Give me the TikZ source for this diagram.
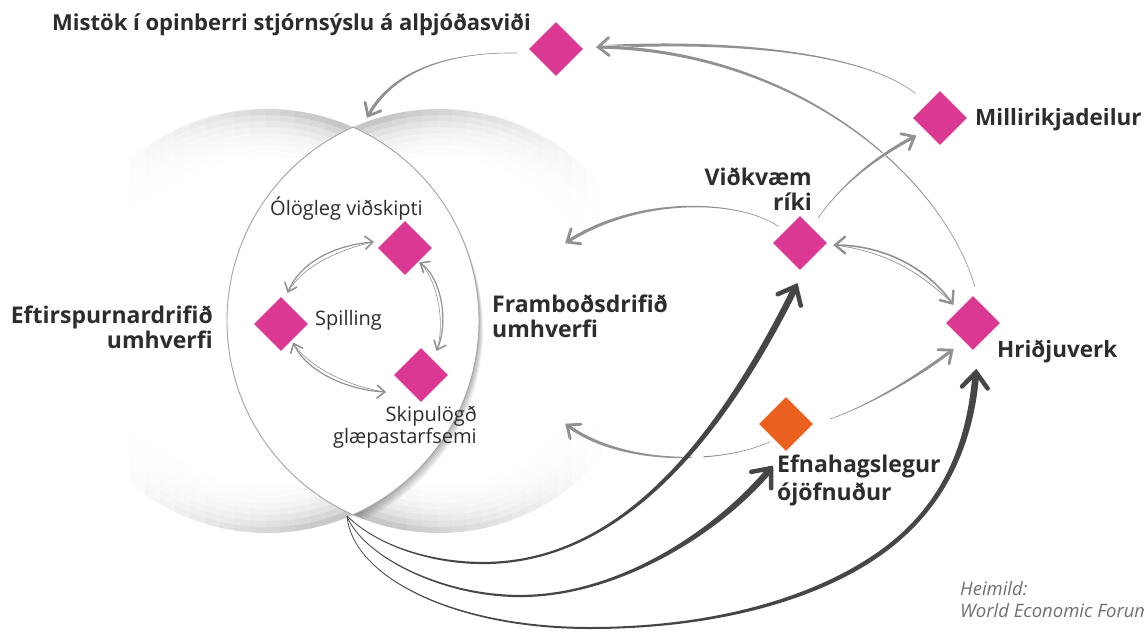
\documentclass[tikz,border=0pt]{standalone}
\usepackage{fontspec}
\setmainfont{Open Sans}
\usetikzlibrary{arrows.meta,calc,shapes.geometric}
\definecolor{pinkD}{RGB}{219,56,148}
\definecolor{orangeD}{RGB}{236,96,31}
\definecolor{txtc}{RGB}{45,45,45}
\definecolor{grA}{RGB}{145,145,145}
\definecolor{dkA}{RGB}{70,70,70}
\definecolor{lensc}{RGB}{165,165,165}
\newcommand\taper[7]{%
  \path #1 coordinate (tpS) #2 coordinate (tpA) #3 coordinate (tpB) #4 coordinate (tpE);
  \path ($(tpS)!#5!-90:(tpA)$) coordinate (tpS1) ($(tpS)!#5!90:(tpA)$) coordinate (tpS2)
        ($(tpE)!#6!90:(tpB)$) coordinate (tpE1) ($(tpE)!#6!-90:(tpB)$) coordinate (tpE2);
  \path ($(tpA)+(tpS1)-(tpS)$) coordinate (tpA1) ($(tpA)+(tpS2)-(tpS)$) coordinate (tpA2)
        ($(tpB)+(tpE1)-(tpE)$) coordinate (tpB1) ($(tpB)+(tpE2)-(tpE)$) coordinate (tpB2);
  \fill[#7] (tpS1) .. controls (tpA1) and (tpB1) .. (tpE1) -- (tpE2) .. controls (tpB2) and (tpA2) .. (tpS2) -- cycle;
}
\newcommand\chev[5]{%
  \draw[#5, line width=#4, line cap=round, line join=miter] ($#1!#3!40:#2$) -- #1 -- ($#1!#3!-40:#2$);}
\begin{document}
\begin{tikzpicture}[x=1pt,y=-1pt,
  dia/.style={diamond, fill=pinkD, inner sep=0pt, minimum width=54pt, minimum height=54pt},
  blbl/.style={text=txtc, inner sep=0pt, font=\bfseries\fontsize{23}{25}\selectfont},
  rlbl/.style={text=txtc, inner sep=0pt, font=\fontsize{20}{22}\selectfont}]
\useasboundingbox (0,0) rectangle (1144,633);
% background circles: rim rings, faded sideways by vertical strips
\foreach \i in {0,...,28} {
  \pgfmathsetmacro\xa{55+15*\i}
  \pgfmathsetmacro\fl{max(0,min(1,(\xa+7.5-125)/200))}
  \pgfmathsetmacro\fr{max(0,min(1,(600-(\xa+172)-7.5)/210))}
  \begin{scope}
    \clip (\xa,100) rectangle (\xa+15.3,545);
    \foreach \rr/\gg in {212/22,206/16,200/11.5,194/8,188/5.5,182/3.5,176/2,170/1,164/0} {
      \pgfmathsetmacro\cc{\gg*\fl}
      \fill[black!\cc] (267,321) circle (\rr);
    }
  \end{scope}
  \begin{scope}
    \clip (\xa+172,100) rectangle (\xa+187.3,545);
    \foreach \rr/\gg in {212/22,206/16,200/11.5,194/8,188/5.5,182/3.5,176/2,170/1,164/0} {
      \pgfmathsetmacro\cc{\gg*\fr}
      \fill[black!\cc] (439,321) circle (\rr);
    }
  \end{scope}
}
\begin{scope}
  \clip (439,321) circle (212);
  \foreach \sh in {1,...,5} {\fill[black, opacity=0.06] ($(267,321)+(0.8*\sh,1.7*\sh)$) circle (212);}
\end{scope}
% lens
\begin{scope}
  \clip (267,321) circle (212);
  \fill[white] (439,321) circle (212);
\end{scope}
\begin{scope}
  \clip (267,321) circle (212.6);
  \draw[lensc, line width=0.9pt] (439,321) circle (212);
\end{scope}
\begin{scope}
  \clip (439,321) circle (212.6);
  \draw[lensc, line width=0.9pt] (267,321) circle (212);
\end{scope}
% diamonds
\node[dia] (mis) at (556,49) {};
\node[dia] (mil) at (940,118) {};
\node[dia] (vr) at (800,243) {};
\node[dia] (hr) at (973,323) {};
\node[dia, fill=orangeD] (ef) at (786,424) {};
\node[dia] (ol) at (405,248) {};
\node[dia] (sp) at (281,324) {};
\node[dia] (sk) at (421,375) {};
% labels
\node[blbl, anchor=base west, font=\bfseries\fontsize{22}{24}\selectfont] (title) at (52,30) {Mistök í opinberri stjórnsýslu á alþjóðasviði};
\node[blbl, anchor=base west, font=\bfseries\fontsize{22.5}{25}\selectfont] (milL) at (975,125) {Millirikjadeilur};
\node[blbl, anchor=base west, font=\bfseries\fontsize{22.5}{25}\selectfont] (hrL) at (997,357) {Hriðjuverk};
\node[blbl, anchor=base east, align=right] (vrL) at (812,210) {Viðkvæm\\ríki};
\node[blbl, anchor=base west, align=left, font=\bfseries\fontsize{23}{28}\selectfont] (efL) at (777,500) {Efnahagslegur\\ójöfnuður};
\node[blbl, anchor=base east, align=right, font=\bfseries\fontsize{23}{22}\selectfont] (eftL) at (213,348) {Eftirspurnardrifið\\umhverfi};
\node[blbl, anchor=base west, align=left] (frL) at (492,337) {Framboðsdrifið\\umhverfi};
\node[rlbl, anchor=base west] (olL) at (270,215) {Ólögleg viðskipti};
\node[rlbl, anchor=base west] (spL) at (315,325) {Spilling};
\node[rlbl, anchor=base east, align=right] (skL) at (477,443) {Skipulögð\\glæpastarfsemi};
\node[anchor=base west, align=left, inner sep=0pt, text={rgb,255:red,110;green,110;blue,110}, font=\itshape\fontsize{18.5}{22}\selectfont] (src) at (960,617) {Heimild:\\World Economic Forum};
% coordinates
\coordinate (lensB) at (347,516);
\coordinate (lensTop) at (368,116);
\coordinate (framTop) at (567,242);
\coordinate (framBot) at (567,425);
\coordinate (misTip) at ($(mis.east)+(15,-2)$);
\coordinate (g1S) at ($(mil.north west)+(-11,-11)$);
\coordinate (g2S) at ($(hr.north)+(2,-9)$);
\coordinate (g3S) at ($(mis.west)+(-12,4)$);
\coordinate (g4S) at ($(vr.north east)+(4.5,-11.5)$);
\coordinate (g4E) at ($(mil.south west)+(-12,5)$);
\coordinate (g5S) at ($(vr.north west)+(-8,-3)$);
\coordinate (g6L) at ($(vr.east)+(8,2)$);
\coordinate (g6R) at ($(hr.north west)+(-7,-6)$);
\coordinate (g7S) at ($(ef.east)+(17,-5)$);
\coordinate (g7E) at ($(hr.south)+(-21,0)$);
\coordinate (g8S) at ($(ef.south west)+(-2,4)$);
% grey connectors
\taper{(g1S)}{(860,50)}{(720,40)}{(misTip)}{0.3pt}{1.6pt}{grA}
\draw[white, line width=4pt] (g2S) .. controls (940,170) and (790,50) .. (misTip);
\taper{(g2S)}{(940,170)}{(790,50)}{(misTip)}{0.3pt}{1.6pt}{grA}
\chev{(misTip)}{(720,42)}{14pt}{2.8pt}{grA}
\taper{(g3S)}{(440,52)}{(390,75)}{(lensTop)}{0.3pt}{1.6pt}{grA}
\chev{(lensTop)}{(390,75)}{14pt}{2.8pt}{grA}
\draw[white, line width=4pt, shorten <=8pt, shorten >=14pt] (g4S) .. controls (845,180) and (880,155) .. (g4E);
\taper{(g4S)}{(845,180)}{(880,155)}{(g4E)}{0.3pt}{1.6pt}{grA}
\chev{(g4E)}{(880,155)}{14pt}{2.8pt}{grA}
\taper{(g5S)}{(740,200)}{(640,195)}{(framTop)}{0.3pt}{1.6pt}{grA}
\chev{(framTop)}{(640,195)}{14pt}{2.8pt}{grA}
\draw[grA, line width=1.6pt] (g6L) .. controls (880,245) and (925,265) .. (g6R);
\draw[grA, line width=0.7pt] (g6L) .. controls (885,252) and (918,270) .. (g6R);
\chev{(g6L)}{(880,245)}{13pt}{2.4pt}{grA}
\chev{(g6R)}{(925,265)}{13pt}{2.4pt}{grA}
\taper{(g7S)}{(870,405)}{(920,375)}{(g7E)}{0.3pt}{1.6pt}{grA}
\chev{(g7E)}{(920,375)}{14pt}{2.8pt}{grA}
\taper{(g8S)}{(720,465)}{(620,465)}{(framBot)}{0.3pt}{1.6pt}{grA}
\chev{(framBot)}{(620,465)}{14pt}{2.8pt}{grA}
% inner double arrows
\coordinate (i1A) at ($(sp.north)+(7,-5)$);
\coordinate (i1B) at ($(ol.west)+(-5,-6)$);
\coordinate (i2A) at ($(ol.east)+(-12,15)$);
\coordinate (i2B) at ($(sk.north)+(16,2)$);
\coordinate (i3A) at ($(sp.south east)+(-1,6)$);
\coordinate (i3B) at ($(sk.west)+(-9,17)$);
\draw[grA, line width=1.2pt] (i1A) .. controls (300,262) and (335,245) .. (i1B);
\draw[grA, line width=0.6pt] (i1A) .. controls (303,266) and (338,250) .. (i1B);
\chev{(i1A)}{(300,262)}{10pt}{1.6pt}{grA}
\chev{(i1B)}{(335,245)}{10pt}{1.6pt}{grA}
\draw[grA, line width=1.2pt] (i2A) .. controls (440,275) and (450,320) .. (i2B);
\draw[grA, line width=0.6pt] (i2A) .. controls (436,278) and (446,320) .. (i2B);
\chev{(i2A)}{(440,275)}{10pt}{1.6pt}{grA}
\chev{(i2B)}{(450,320)}{10pt}{1.6pt}{grA}
\draw[grA, line width=1.2pt] (i3A) .. controls (305,370) and (345,390) .. (i3B);
\draw[grA, line width=0.6pt] (i3A) .. controls (309,367) and (347,386) .. (i3B);
\chev{(i3A)}{(305,370)}{10pt}{1.6pt}{grA}
\chev{(i3B)}{(345,390)}{10pt}{1.6pt}{grA}
% dark arrows
\coordinate (aM) at (483,563);
\coordinate (aE) at ($(vr.south)+(-4,16)$);
\taper{(lensB)}{(380,548)}{(435,563)}{(aM)}{0.4pt}{1.1pt}{dkA}
\draw[white, line width=9pt, shorten <=120pt, shorten >=60pt] (aM) .. controls (620,563) and (720,440) .. (aE);
\taper{(aM)}{(620,563)}{(720,440)}{(aE)}{1.1pt}{3.2pt}{dkA}
\chev{(aE)}{(720,440)}{20pt}{4.5pt}{dkA}
\coordinate (bM) at (520,596);
\coordinate (bE) at ($(ef.south)+(-15,17)$);
\taper{(lensB)}{(362,555)}{(440,596)}{(bM)}{0.4pt}{1.1pt}{dkA}
\taper{(bM)}{(620,596)}{(720,530)}{(bE)}{1.1pt}{3.2pt}{dkA}
\chev{(bE)}{(720,530)}{20pt}{4.5pt}{dkA}
\coordinate (cM) at (590,628);
\coordinate (cN) at (870,560);
\coordinate (cE) at ($(hr.south)+(3,22)$);
\taper{(lensB)}{(352,575)}{(450,628)}{(cM)}{0.4pt}{1.0pt}{dkA}
\taper{(cM)}{(700,628)}{(800,605)}{(cN)}{1.0pt}{2.2pt}{dkA}
\taper{(cN)}{(940,515)}{(970,450)}{(cE)}{2.2pt}{3.4pt}{dkA}
\chev{(cE)}{(970,450)}{20pt}{4.5pt}{dkA}
\end{tikzpicture}
\end{document}
